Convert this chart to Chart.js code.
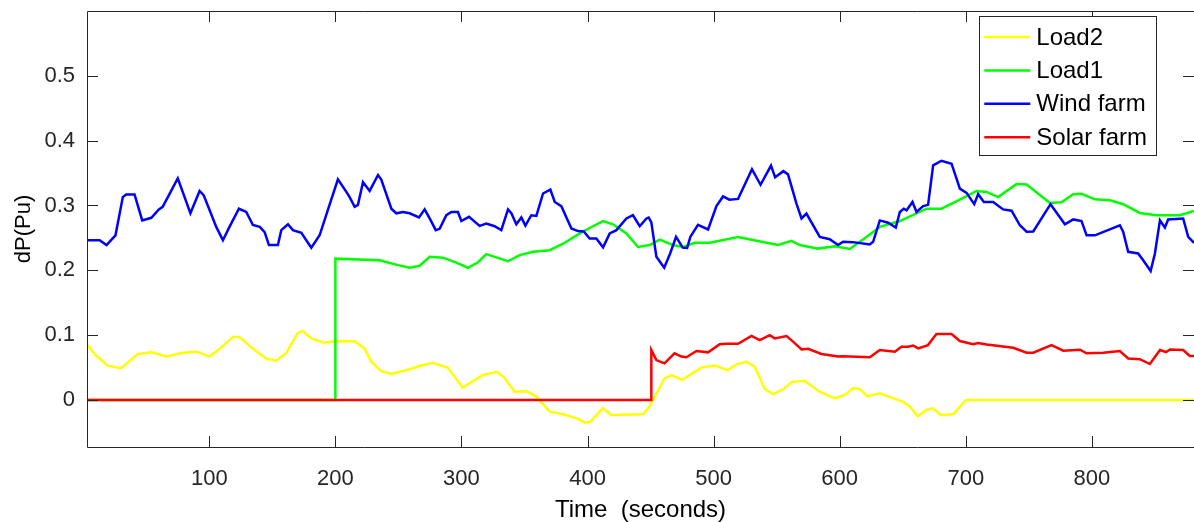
<!DOCTYPE html>
<html>
<head>
<meta charset="utf-8">
<title>dP(Pu) vs time</title>
<script src="https://cdn.jsdelivr.net/npm/chart.js@4.4.1/dist/chart.umd.min.js"></script>
<style>
    html, body { margin: 0; padding: 0; background: #fff; }
</style>
</head>
<body>
<canvas id="dpChart" width="1194" height="522"></canvas>
<script>
// Axis ticks
const xTicks = [100, 200, 300, 400, 500, 600, 700, 800];
const yTicks = [0, 0.1, 0.2, 0.3, 0.4, 0.5];
const xRange = [3, 881];
const yRange = [-0.0725, 0.6];

// Series, [time (s), dP (pu)]
const load2 = [[3,0.085],[10,0.069],[19.5,0.053],[30,0.049],[43,0.0705],[54,0.0735],[66,0.067],[78,0.0725],[90,0.0745],[100,0.067],[107,0.077],[119,0.0975],[124,0.097],[135,0.0785],[145,0.064],[153,0.0605],[161,0.0725],[170,0.103],[174,0.1065],[181,0.095],[191,0.0885],[201,0.091],[215,0.0905],[223,0.0795],[228.5,0.059],[236,0.045],[244,0.04],[256,0.046],[267,0.0525],[277,0.0575],[289,0.05],[301,0.019],[317,0.0385],[328,0.0435],[334,0.0345],[342,0.0128],[351.5,0.0135],[359,0.006],[370,-0.018],[380.5,-0.022],[391,-0.028],[398,-0.035],[402,-0.034],[412,-0.0128],[419,-0.023],[444,-0.022],[449,-0.0103],[452,0],[461,0.0334],[466.5,0.0385],[475,0.031],[490,0.05],[501,0.053],[511,0.046],[518,0.055],[526,0.059],[532.6,0.0515],[540.5,0.017],[547,0.009],[555,0.0162],[562,0.028],[572,0.0298],[584,0.0128],[596,0.0026],[604,0.0077],[610.6,0.018],[616,0.017],[621.7,0.006],[631.8,0.0103],[642.4,0.0026],[650,-0.0026],[655.6,-0.0103],[662,-0.025],[669,-0.0148],[674,-0.0128],[680,-0.023],[690,-0.022],[700,0],[881,0]];

const load1 = [[3,0],[200,0],[200,0.218],[235,0.2155],[249.6,0.208],[258.9,0.204],[266.8,0.207],[274.8,0.221],[285.3,0.2195],[295.9,0.212],[305.1,0.204],[313.1,0.2125],[319.7,0.225],[327.7,0.22],[336.9,0.214],[346.2,0.2235],[356.7,0.2285],[370,0.231],[381.9,0.2425],[393.8,0.257],[404.3,0.268],[412.3,0.276],[420.2,0.271],[430.8,0.257],[440,0.236],[449.3,0.239],[457.2,0.2475],[467.8,0.239],[475.7,0.236],[485,0.2425],[496.9,0.2425],[519.4,0.2515],[534,0.2455],[551.1,0.239],[561.7,0.2455],[568.3,0.239],[582.8,0.2335],[596.1,0.237],[608,0.233],[621.2,0.2515],[631.8,0.267],[647.7,0.276],[668.8,0.295],[680.7,0.295],[695.3,0.309],[708.5,0.3225],[716.5,0.321],[725.6,0.313],[740.2,0.333],[748.2,0.3325],[766.7,0.304],[775.9,0.305],[785.2,0.3175],[791.8,0.318],[802.4,0.3095],[814.3,0.308],[824.8,0.302],[838,0.2885],[851.3,0.285],[869.7,0.285],[881,0.2915]];

const windFarm = [[3,0.2465],[13,0.2465],[18.5,0.239],[25.6,0.254],[31.4,0.313],[34,0.317],[40.7,0.317],[46.8,0.277],[54,0.281],[60,0.294],[63,0.298],[68.5,0.318],[75,0.342],[80.4,0.313],[85,0.288],[92.3,0.3225],[95.5,0.316],[100.2,0.293],[105.5,0.267],[110.8,0.2465],[116,0.267],[123.5,0.295],[129.3,0.29],[134.6,0.27],[140,0.267],[143.9,0.259],[147.3,0.239],[154.4,0.239],[157.1,0.262],[162.4,0.271],[166.3,0.262],[173,0.258],[180.9,0.235],[187.5,0.254],[194,0.293],[202,0.3405],[208.7,0.321],[211.3,0.313],[215.3,0.298],[217.9,0.301],[221.9,0.336],[227.2,0.3225],[233.8,0.347],[236.4,0.34],[244.4,0.295],[248.3,0.288],[253.6,0.29],[258.9,0.288],[266.3,0.2815],[270.8,0.294],[274.8,0.28],[279.6,0.262],[282.7,0.264],[288,0.285],[292,0.29],[297.2,0.29],[299.9,0.276],[306,0.2825],[314.4,0.2685],[319.7,0.272],[326.3,0.268],[331.6,0.262],[336.9,0.294],[339.6,0.288],[343.5,0.271],[347.5,0.2815],[350.7,0.269],[355.4,0.285],[359.4,0.284],[364.7,0.3185],[370.5,0.3245],[374,0.3055],[379.2,0.299],[387.2,0.2645],[392.4,0.2605],[397,0.26],[401.7,0.249],[407,0.249],[412.3,0.2355],[417.6,0.257],[422.9,0.262],[430.8,0.28],[436,0.285],[441.4,0.268],[446.7,0.28],[448.5,0.2815],[450.6,0.274],[454.6,0.221],[460.8,0.204],[465.5,0.226],[470.2,0.2515],[475.5,0.235],[479,0.2345],[481.5,0.2515],[487.6,0.27],[495.6,0.263],[502.2,0.299],[507.5,0.314],[512.5,0.309],[519.4,0.3102],[530.4,0.356],[537.2,0.332],[545.5,0.3615],[548.8,0.3435],[555.3,0.353],[559,0.348],[565.7,0.303],[569.7,0.28],[573.6,0.2875],[584.2,0.2515],[592.1,0.248],[598.7,0.239],[602.7,0.244],[610.6,0.2435],[623.8,0.24],[626.5,0.244],[631.8,0.277],[638.4,0.2735],[644.5,0.266],[647.7,0.29],[650.8,0.295],[653,0.2925],[657.7,0.3055],[660.9,0.29],[666.2,0.299],[670.1,0.301],[674.1,0.362],[680.7,0.369],[688.7,0.3645],[695.3,0.326],[700.6,0.3195],[706.7,0.302],[709.8,0.3175],[714.3,0.3055],[721.7,0.3055],[729.6,0.294],[736.3,0.292],[742.9,0.2695],[748.2,0.2595],[753.5,0.26],[767.2,0.302],[778.6,0.271],[785.2,0.2785],[791.8,0.276],[795.8,0.254],[802.4,0.254],[822.2,0.2695],[824.8,0.2595],[828.8,0.2285],[836.7,0.226],[840.7,0.2155],[846.6,0.199],[850,0.226],[854,0.277],[857.9,0.266],[860.5,0.2785],[872.4,0.28],[876.4,0.2515],[881,0.2425]];

const solarFarm = [[3,0],[450.6,0],[450.6,0.077],[454.6,0.0616],[461,0.0565],[469,0.072],[474.4,0.067],[478.4,0.066],[486.4,0.0755],[495.6,0.0735],[504.8,0.086],[510,0.0866],[519.4,0.0866],[530,0.099],[536.6,0.0925],[544.5,0.1],[548.5,0.095],[557.8,0.0986],[563,0.09],[569.7,0.078],[574.9,0.079],[585.5,0.071],[598.7,0.067],[602.7,0.0675],[623.8,0.066],[631.8,0.077],[643.7,0.0745],[649,0.082],[654.3,0.082],[658.2,0.084],[662.2,0.0795],[670,0.0847],[676.7,0.1017],[688.7,0.1017],[695.3,0.091],[705.8,0.086],[709.8,0.088],[716.5,0.0855],[737.6,0.0806],[748.2,0.073],[753.5,0.073],[768,0.0847],[777.3,0.076],[790.6,0.0775],[795.8,0.072],[809,0.073],[822.2,0.0755],[828.8,0.064],[838,0.063],[846,0.0555],[854,0.077],[858.8,0.074],[862,0.078],[872.4,0.077],[877.7,0.0678],[881,0.0678]];

const seriesNames = ['Load2', 'Load1', 'Wind farm', 'Solar farm'];
const seriesColors = ['#ffff00', '#00ff00', '#0000ff', '#ff0000'];

const axisColor = '#262626';
const fontFamily = '"Liberation Sans", Arial, Helvetica, sans-serif';

// box + inward ticks + legend, matlab style
const matlabAxes = {
    id: 'matlabAxes',
    afterDatasetsDraw(chart) {
        const ctx = chart.ctx;
        const a = chart.chartArea;
        const xs = chart.scales.x;
        const ys = chart.scales.y;
        const tl = 11;
        ctx.save();
        ctx.strokeStyle = axisColor;
        ctx.lineWidth = 1;
        ctx.beginPath();
        ctx.rect(a.left + 0.5, a.top + 0.5, a.right - a.left, a.bottom - a.top);
        xTicks.forEach(v => {
            const px = Math.round(xs.getPixelForValue(v)) + 0.5;
            ctx.moveTo(px, a.bottom); ctx.lineTo(px, a.bottom - tl);
            ctx.moveTo(px, a.top); ctx.lineTo(px, a.top + tl);
        });
        yTicks.forEach(v => {
            const py = Math.round(ys.getPixelForValue(v)) + 0.5;
            ctx.moveTo(a.left, py); ctx.lineTo(a.left + tl, py);
            ctx.moveTo(a.right, py); ctx.lineTo(a.right - tl, py);
        });
        ctx.stroke();

        // legend
        ctx.font = '24px ' + fontFamily;
        const widths = seriesNames.map(n => ctx.measureText(n).width);
        const maxW = Math.max(...widths);
        const boxW = 5 + 46 + 6 + maxW + 9;
        const rowH = 33.4;
        const boxH = 139;
        const boxX = a.right - 38 - boxW;
        const boxY = a.top + 5;
        ctx.fillStyle = '#fff';
        ctx.fillRect(boxX, boxY, boxW, boxH);
        ctx.strokeRect(Math.round(boxX) + 0.5, Math.round(boxY) + 0.5, Math.round(boxW), Math.round(boxH));
        ctx.textBaseline = 'middle';
        chart.data.datasets.forEach((ds, i) => {
            const cy = boxY + 21 + i * rowH;
            ctx.strokeStyle = ds.borderColor;
            ctx.lineWidth = 2.5;
            ctx.beginPath();
            ctx.moveTo(boxX + 5, cy);
            ctx.lineTo(boxX + 51, cy);
            ctx.stroke();
            ctx.fillStyle = '#000';
            ctx.fillText(ds.label, boxX + 57, cy + 1);
        });
        ctx.restore();
    }
};

document.addEventListener("DOMContentLoaded", function () {
    const seriesData = [load2, load1, windFarm, solarFarm];
    const datasets = seriesData.map((s, i) => ({
        label: seriesNames[i],
        data: s.map(p => ({ x: p[0], y: p[1] })),
        borderColor: seriesColors[i],
        backgroundColor: seriesColors[i],
        borderWidth: 2.5,
        pointRadius: 0,
        tension: 0,
        fill: false,
        order: seriesNames.length - i // solar farm drawn last (on top)
    }));

    const ctx = document.getElementById('dpChart').getContext('2d');
    new Chart(ctx, {
        type: 'line',
        data: { datasets: datasets },
        options: {
            responsive: false,
            animation: false,
            layout: { padding: { top: 11, right: 0, bottom: 0, left: 0 } },
            plugins: {
                legend: { display: false },
                tooltip: { enabled: false }
            },
            scales: {
                x: {
                    type: 'linear',
                    min: xRange[0],
                    max: xRange[1],
                    afterBuildTicks: scale => { scale.ticks = xTicks.map(v => ({ value: v })); },
                    afterFit: scale => {
                        scale.height = 75;
                        scale.paddingLeft = 0;
                        scale.paddingRight = 0;
                    },
                    grid: { display: false, drawTicks: false },
                    border: { display: false },
                    ticks: {
                        color: axisColor,
                        font: { family: fontFamily, size: 22 },
                        padding: 19,
                        maxRotation: 0,
                        autoSkip: false
                    },
                    title: {
                        display: true,
                        text: 'Time  (seconds)',
                        color: '#000',
                        font: { family: fontFamily, size: 24 },
                        padding: { top: 0, bottom: -3 }
                    }
                },
                y: {
                    type: 'linear',
                    min: yRange[0],
                    max: yRange[1],
                    afterBuildTicks: scale => { scale.ticks = yTicks.map(v => ({ value: v })); },
                    afterFit: scale => {
                        scale.width = 87;
                        scale.paddingTop = 0;
                        scale.paddingBottom = 0;
                    },
                    grid: { display: false, drawTicks: false },
                    border: { display: false },
                    ticks: {
                        color: axisColor,
                        font: { family: fontFamily, size: 22 },
                        padding: 12,
                        callback: v => String(+(+v).toFixed(1))
                    },
                    title: {
                        display: true,
                        text: 'dP(Pu)',
                        color: '#000',
                        font: { family: fontFamily, size: 22 },
                        padding: { top: 11, bottom: 0 }
                    }
                }
            }
        },
        plugins: [matlabAxes]
    });
});
</script>
</body>
</html>
